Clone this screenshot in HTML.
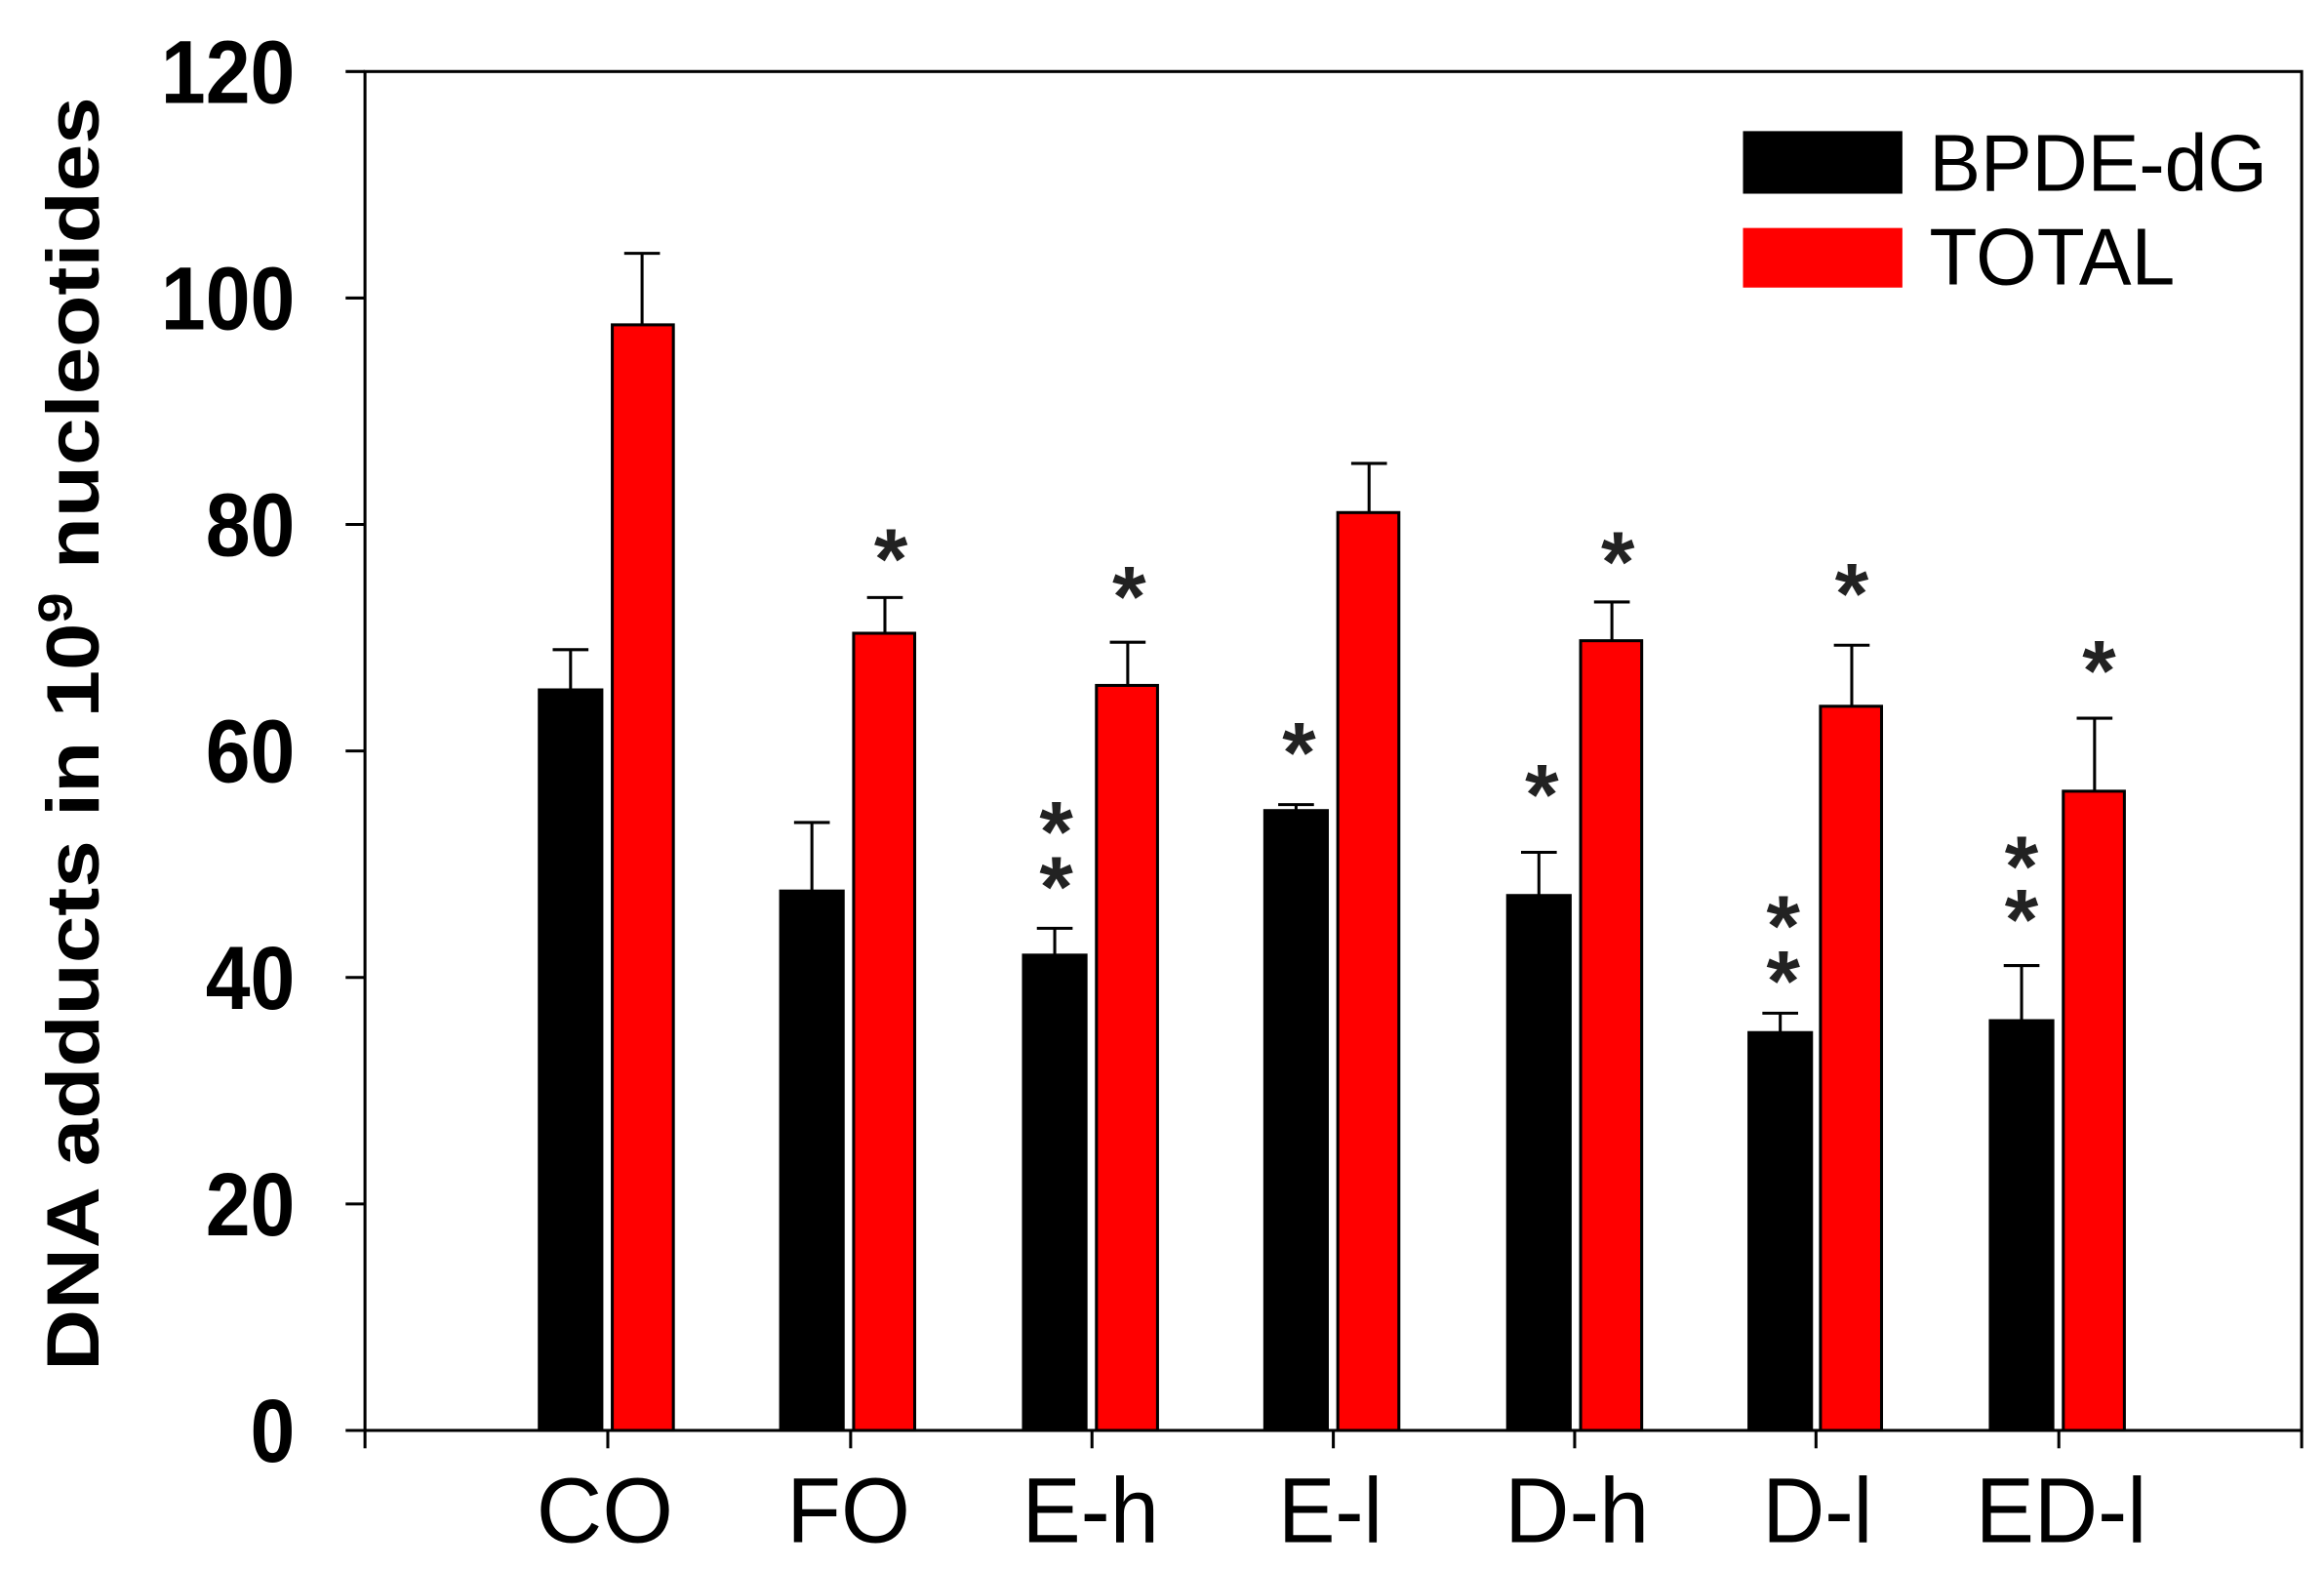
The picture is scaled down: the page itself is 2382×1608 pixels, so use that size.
<!DOCTYPE html>
<html><head><style>html,body{margin:0;padding:0;background:#fff}svg{display:block}</style></head>
<body>
<svg width="2382" height="1608" viewBox="0 0 1560 1053" preserveAspectRatio="none" xmlns="http://www.w3.org/2000/svg" font-family="Liberation Sans, Arial, sans-serif">
<rect x="245" y="48" width="1300" height="912" fill="none" stroke="#000" stroke-width="2"/>
<g stroke="#000" stroke-width="2">
<line x1="232" y1="960" x2="245" y2="960"/><line x1="232" y1="808" x2="245" y2="808"/><line x1="232" y1="656" x2="245" y2="656"/><line x1="232" y1="504" x2="245" y2="504"/><line x1="232" y1="352" x2="245" y2="352"/><line x1="232" y1="200" x2="245" y2="200"/><line x1="232" y1="48" x2="245" y2="48"/>
<line x1="245" y1="960" x2="245" y2="972"/><line x1="408" y1="960" x2="408" y2="972"/><line x1="571" y1="960" x2="571" y2="972"/><line x1="733" y1="960" x2="733" y2="972"/><line x1="895" y1="960" x2="895" y2="972"/><line x1="1057" y1="960" x2="1057" y2="972"/><line x1="1219" y1="960" x2="1219" y2="972"/><line x1="1382" y1="960" x2="1382" y2="972"/><line x1="1545" y1="960" x2="1545" y2="972"/>
</g>
<g font-size="60" font-weight="bold" lengthAdjust="spacingAndGlyphs">
<text x="168" y="981" textLength="30" lengthAdjust="spacingAndGlyphs">0</text>
<text x="138" y="829" textLength="60" lengthAdjust="spacingAndGlyphs">20</text>
<text x="138" y="677" textLength="60" lengthAdjust="spacingAndGlyphs">40</text>
<text x="138" y="525" textLength="60" lengthAdjust="spacingAndGlyphs">60</text>
<text x="138" y="373" textLength="60" lengthAdjust="spacingAndGlyphs">80</text>
<text x="108" y="221" textLength="90" lengthAdjust="spacingAndGlyphs">100</text>
<text x="108" y="69" textLength="90" lengthAdjust="spacingAndGlyphs">120</text>
</g>
<text transform="translate(66,920) rotate(-90)" font-size="50" font-weight="bold" textLength="855" lengthAdjust="spacingAndGlyphs">DNA adducts in 10<tspan font-size="32" dy="-18">9</tspan><tspan dy="18"> nucleotides</tspan></text>
<g font-size="62">
<text x="360" y="1035" textLength="92" lengthAdjust="spacingAndGlyphs">CO</text>
<text x="528" y="1035" textLength="83" lengthAdjust="spacingAndGlyphs">FO</text>
<text x="686" y="1035" textLength="92" lengthAdjust="spacingAndGlyphs">E-h</text>
<text x="858" y="1035" textLength="70" lengthAdjust="spacingAndGlyphs">E-l</text>
<text x="1010" y="1035" textLength="97" lengthAdjust="spacingAndGlyphs">D-h</text>
<text x="1183" y="1035" textLength="74" lengthAdjust="spacingAndGlyphs">D-l</text>
<text x="1326" y="1035" textLength="115" lengthAdjust="spacingAndGlyphs">ED-l</text>
</g>
<g stroke="#000" stroke-width="2">
<line x1="383" y1="463" x2="383" y2="436"/><line x1="371" y1="436" x2="395" y2="436"/>
<line x1="431" y1="218" x2="431" y2="170"/><line x1="419" y1="170" x2="443" y2="170"/>
<line x1="545" y1="598" x2="545" y2="552"/><line x1="533" y1="552" x2="557" y2="552"/>
<line x1="594" y1="425" x2="594" y2="401"/><line x1="582" y1="401" x2="606" y2="401"/>
<line x1="708" y1="641" x2="708" y2="623"/><line x1="696" y1="623" x2="720" y2="623"/>
<line x1="757" y1="460" x2="757" y2="431"/><line x1="745" y1="431" x2="769" y2="431"/>
<line x1="870" y1="544" x2="870" y2="540"/><line x1="858" y1="540" x2="882" y2="540"/>
<line x1="919" y1="344" x2="919" y2="311"/><line x1="907" y1="311" x2="931" y2="311"/>
<line x1="1033" y1="601" x2="1033" y2="572"/><line x1="1021" y1="572" x2="1045" y2="572"/>
<line x1="1082" y1="430" x2="1082" y2="404"/><line x1="1070" y1="404" x2="1094" y2="404"/>
<line x1="1195" y1="693" x2="1195" y2="680"/><line x1="1183" y1="680" x2="1207" y2="680"/>
<line x1="1243" y1="474" x2="1243" y2="433"/><line x1="1231" y1="433" x2="1255" y2="433"/>
<line x1="1357" y1="685" x2="1357" y2="648"/><line x1="1345" y1="648" x2="1369" y2="648"/>
<line x1="1406" y1="531" x2="1406" y2="482"/><line x1="1394" y1="482" x2="1418" y2="482"/>
</g>
<g stroke="#000" stroke-width="2">
<rect x="362" y="463" width="42" height="497" fill="#000"/><rect x="411" y="218" width="41" height="742" fill="#f00"/>
<rect x="524" y="598" width="42" height="362" fill="#000"/><rect x="573" y="425" width="41" height="535" fill="#f00"/>
<rect x="687" y="641" width="42" height="319" fill="#000"/><rect x="736" y="460" width="41" height="500" fill="#f00"/>
<rect x="849" y="544" width="42" height="416" fill="#000"/><rect x="898" y="344" width="41" height="616" fill="#f00"/>
<rect x="1012" y="601" width="42" height="359" fill="#000"/><rect x="1061" y="430" width="41" height="530" fill="#f00"/>
<rect x="1174" y="693" width="42" height="267" fill="#000"/><rect x="1222" y="474" width="41" height="486" fill="#f00"/>
<rect x="1336" y="685" width="42" height="275" fill="#000"/><rect x="1385" y="531" width="41" height="429" fill="#f00"/>
</g>
<g font-size="58" font-weight="bold" text-anchor="middle" fill="#222">
<text x="598" y="395">*</text>
<text x="758" y="420">*</text>
<text x="709" y="578">*</text><text x="709" y="615">*</text>
<text x="872" y="525">*</text>
<text x="1035" y="553">*</text>
<text x="1086" y="397">*</text>
<text x="1197" y="641">*</text><text x="1197" y="678">*</text>
<text x="1243" y="418">*</text>
<text x="1357" y="601">*</text><text x="1357" y="637">*</text>
<text x="1409" y="470">*</text>
</g>
<rect x="1170" y="88" width="107" height="42" fill="#000"/>
<rect x="1170" y="153" width="107" height="40" fill="#f00"/>
<g font-size="54">
<text x="1295" y="128" textLength="227" lengthAdjust="spacingAndGlyphs">BPDE-dG</text>
<text x="1295" y="191" textLength="165" lengthAdjust="spacingAndGlyphs">TOTAL</text>
</g>
</svg>
</body></html>
